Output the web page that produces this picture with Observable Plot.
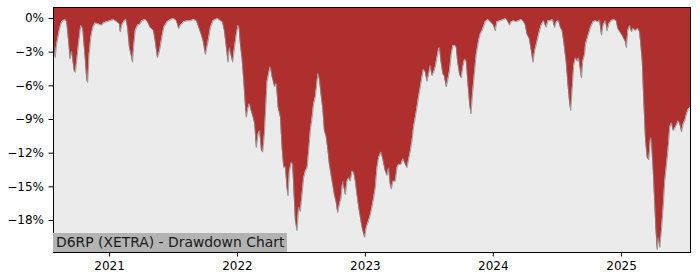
<!DOCTYPE html>
<html>
<head>
<meta charset="utf-8">
<script src="https://cdn.jsdelivr.net/npm/d3@7"></script>
<script src="https://cdn.jsdelivr.net/npm/@observablehq/plot@0.6"></script>
<style>
  html, body { margin: 0; padding: 0; background: #ffffff; }
  #wrap { position: relative; width: 700px; height: 280px; font-family: "DejaVu Sans", sans-serif; }
  #title {
    position: absolute; left: 53px; top: 233px; height: 19px; line-height: 19px;
    padding: 0 3px 0 3px; background: #b3b3b3; color: #1a1a1a;
    font-size: 13.9px; white-space: nowrap;
  }
</style>
</head>
<body>
<div id="wrap"><div id="title">D6RP (XETRA) - Drawdown Chart</div></div>
<script>
// Dates as decimal years, drawdown in percent
const dateYears = [
  2020.563, 2020.576, 2020.588, 2020.609, 2020.627, 2020.654, 2020.666, 2020.680, 2020.693, 2020.705,
  2020.724, 2020.734, 2020.745, 2020.758, 2020.776, 2020.791, 2020.810, 2020.823, 2020.830, 2020.841,
  2020.854, 2020.870, 2020.888, 2020.914, 2020.940, 2020.953, 2020.979, 2021.005, 2021.031, 2021.057,
  2021.078, 2021.084, 2021.096, 2021.115, 2021.130, 2021.141, 2021.156, 2021.170, 2021.180, 2021.188,
  2021.201, 2021.219, 2021.240, 2021.252, 2021.279, 2021.297, 2021.318, 2021.344, 2021.357, 2021.375,
  2021.391, 2021.409, 2021.424, 2021.451, 2021.477, 2021.502, 2021.523, 2021.541, 2021.555, 2021.580,
  2021.607, 2021.633, 2021.659, 2021.680, 2021.698, 2021.716, 2021.732, 2021.750, 2021.763, 2021.776,
  2021.789, 2021.810, 2021.828, 2021.846, 2021.867, 2021.883, 2021.898, 2021.914, 2021.927, 2021.938,
  2021.951, 2021.963, 2021.977, 2021.992, 2022.005, 2022.013, 2022.023, 2022.037, 2022.049, 2022.063,
  2022.070, 2022.084, 2022.094, 2022.107, 2022.123, 2022.135, 2022.148, 2022.162, 2022.174, 2022.188,
  2022.198, 2022.211, 2022.219, 2022.232, 2022.250, 2022.258, 2022.271, 2022.291, 2022.305, 2022.318,
  2022.336, 2022.349, 2022.362, 2022.375, 2022.388, 2022.396, 2022.406, 2022.422, 2022.432, 2022.443,
  2022.453, 2022.466, 2022.479, 2022.492, 2022.505, 2022.518, 2022.531, 2022.545, 2022.557, 2022.570,
  2022.584, 2022.596, 2022.609, 2022.623, 2022.630, 2022.641, 2022.654, 2022.666, 2022.680, 2022.693,
  2022.705, 2022.719, 2022.732, 2022.745, 2022.758, 2022.771, 2022.784, 2022.797, 2022.810, 2022.823,
  2022.834, 2022.844, 2022.857, 2022.870, 2022.883, 2022.896, 2022.909, 2022.922, 2022.935, 2022.948,
  2022.961, 2022.974, 2022.987, 2022.995, 2023.008, 2023.026, 2023.039, 2023.052, 2023.065, 2023.078,
  2023.091, 2023.104, 2023.123, 2023.138, 2023.156, 2023.170, 2023.182, 2023.195, 2023.203, 2023.216,
  2023.234, 2023.248, 2023.260, 2023.279, 2023.295, 2023.313, 2023.326, 2023.338, 2023.352, 2023.365,
  2023.377, 2023.391, 2023.404, 2023.416, 2023.430, 2023.443, 2023.455, 2023.469, 2023.482, 2023.495,
  2023.508, 2023.521, 2023.534, 2023.547, 2023.560, 2023.573, 2023.580, 2023.591, 2023.607, 2023.617,
  2023.633, 2023.646, 2023.659, 2023.672, 2023.685, 2023.703, 2023.711, 2023.721, 2023.737, 2023.750,
  2023.763, 2023.776, 2023.789, 2023.802, 2023.815, 2023.826, 2023.838, 2023.852, 2023.867, 2023.885,
  2023.898, 2023.912, 2023.938, 2023.959, 2023.977, 2024.002, 2024.016, 2024.029, 2024.055, 2024.080,
  2024.099, 2024.115, 2024.127, 2024.141, 2024.159, 2024.177, 2024.198, 2024.219, 2024.237, 2024.250,
  2024.263, 2024.281, 2024.297, 2024.310, 2024.323, 2024.336, 2024.354, 2024.373, 2024.393, 2024.412,
  2024.427, 2024.445, 2024.463, 2024.479, 2024.492, 2024.510, 2024.523, 2024.537, 2024.549, 2024.568,
  2024.584, 2024.596, 2024.604, 2024.615, 2024.627, 2024.641, 2024.654, 2024.666, 2024.680, 2024.688,
  2024.698, 2024.713, 2024.719, 2024.737, 2024.758, 2024.779, 2024.797, 2024.815, 2024.830, 2024.844,
  2024.857, 2024.875, 2024.888, 2024.901, 2024.920, 2024.940, 2024.959, 2024.971, 2024.987, 2025.005,
  2025.018, 2025.031, 2025.039, 2025.049, 2025.065, 2025.078, 2025.091, 2025.109, 2025.127, 2025.141,
  2025.148, 2025.162, 2025.174, 2025.188, 2025.201, 2025.213, 2025.227, 2025.234, 2025.248, 2025.258,
  2025.268, 2025.279, 2025.289, 2025.299, 2025.310, 2025.326, 2025.338, 2025.352, 2025.365, 2025.377,
  2025.391, 2025.404, 2025.416, 2025.430, 2025.443, 2025.456, 2025.469, 2025.482, 2025.495, 2025.508,
  2025.521, 2025.539
];
const drawdownPct = [
  -2.0, -3.5, -2.3, -1.0, -0.3, -0.1, -0.3, -1.9, -3.6, -2.9,
  -4.6, -4.8, -3.7, -2.3, -0.6, -0.9, -3.5, -5.5, -5.7, -3.2,
  -1.7, -0.8, -0.4, -0.5, -0.6, -0.4, -0.3, -0.2, -0.1, -0.3,
  -0.5, -1.2, -0.6, -0.2, -0.1, -0.8, -2.6, -3.3, -3.9, -2.6,
  -1.1, -0.6, -0.5, -0.2, -0.1, -0.3, -0.8, -1.1, -2.0, -3.5,
  -2.9, -1.7, -0.8, -0.3, -0.1, 0.0, -0.2, -0.9, -0.6, -0.3,
  -0.2, -0.2, -0.1, -0.2, -0.8, -1.4, -2.0, -3.2, -2.5, -1.7,
  -0.8, -0.2, -0.1, 0.0, -0.2, -0.3, -1.1, -2.6, -3.9, -2.6,
  -3.3, -3.9, -2.6, -1.4, -0.6, -0.8, -2.3, -3.7, -5.5, -7.9,
  -8.8, -7.9, -7.6, -8.2, -8.8, -9.4, -11.5, -10.3, -10.0, -11.8,
  -11.9, -10.3, -8.5, -5.6, -4.6, -4.3, -5.2, -6.1, -5.8, -7.9,
  -8.8, -11.5, -13.3, -13.2, -15.1, -15.8, -13.6, -12.8, -13.0, -15.7,
  -18.0, -18.9, -16.8, -17.2, -15.7, -14.2, -13.6, -13.3, -11.8, -10.0,
  -8.8, -7.6, -7.0, -5.6, -4.9, -5.4, -6.8, -7.9, -10.0, -10.5,
  -11.5, -13.0, -13.9, -14.8, -15.7, -16.3, -17.3, -16.6, -16.0, -14.5,
  -15.1, -15.7, -14.5, -14.2, -14.5, -13.6, -13.7, -14.5, -15.7, -16.8,
  -17.7, -18.6, -19.2, -19.5, -18.6, -18.0, -17.5, -16.8, -16.0, -15.1,
  -13.3, -12.4, -11.9, -12.6, -13.6, -14.0, -13.3, -14.8, -15.2, -14.5,
  -14.5, -13.3, -13.0, -13.0, -12.5, -13.0, -13.3, -12.6, -11.8, -10.9,
  -9.7, -8.8, -7.9, -7.0, -6.1, -5.2, -4.5, -4.8, -5.6, -5.0,
  -4.2, -5.1, -4.8, -4.3, -3.5, -2.7, -2.6, -3.8, -5.0, -5.1,
  -6.1, -5.4, -4.6, -3.2, -2.4, -2.4, -2.6, -3.8, -5.0, -5.3,
  -4.3, -3.6, -3.8, -5.8, -7.6, -8.5, -6.7, -5.0, -3.2, -2.0,
  -1.4, -1.1, -0.3, -0.1, -0.3, -0.6, -1.1, -0.3, -0.2, -0.1,
  0.0, -0.3, -0.6, -0.3, -0.2, -0.3, -0.2, -0.1, -0.3, -0.6,
  -1.4, -1.8, -2.9, -3.9, -2.9, -2.3, -1.4, -0.6, -0.2, -0.8,
  -0.2, -0.2, -0.1, -0.8, -0.3, -0.2, -0.8, -1.1, -2.0, -3.8,
  -6.1, -7.6, -8.2, -6.4, -4.2, -3.5, -3.8, -3.5, -4.6, -5.3,
  -3.8, -3.2, -2.3, -1.6, -0.8, -0.3, -0.2, -0.3, -0.2, -1.5,
  -0.6, -0.2, -1.1, -0.5, -0.2, -0.1, -0.2, -0.9, -1.2, -1.5,
  -1.8, -2.1, -2.6, -1.1, -0.6, -1.2, -0.9, -1.1, -0.9, -1.2,
  -2.0, -3.8, -7.3, -10.9, -12.4, -12.6, -10.6, -10.9, -13.6, -16.0,
  -18.6, -20.6, -19.5, -20.4, -19.2, -16.8, -14.5, -13.0, -11.5, -9.7,
  -9.3, -10.0, -9.8, -9.5, -9.1, -9.4, -10.1, -9.4, -9.1, -8.5,
  -8.1, -7.9
];
const yDomain = [-20.85, 0.98];
const yTicks = [0, -3, -6, -9, -12, -15, -18];
const xTickYears = [2021, 2022, 2023, 2024, 2025];
const titleText = "D6RP (XETRA) - Drawdown Chart";

function yearToDate(t) {
  const y = Math.floor(t);
  const s = Date.UTC(y, 0, 1), e = Date.UTC(y + 1, 0, 1);
  return new Date(s + (t - y) * (e - s));
}

const data = dateYears.map((t, i) => ({date: yearToDate(t), dd: drawdownPct[i]}));

const chart = Plot.plot({
  width: 700,
  height: 280,
  marginLeft: 53,
  marginRight: 10,
  marginTop: 7,
  marginBottom: 28,
  style: {fontFamily: "DejaVu Sans", fontSize: "12px", color: "#000", background: "transparent"},
  x: {type: "utc", domain: [yearToDate(dateYears[0]), yearToDate(dateYears[dateYears.length - 1])]},
  y: {domain: yDomain},
  marks: [
    Plot.frame({fill: "#ebebeb", stroke: null}),
    Plot.areaY(data, {x: "date", y1: yDomain[1], y2: "dd", fill: "#af2f2f", curve: "linear"}),
    Plot.line(data, {x: "date", y: "dd", stroke: "#8a8a8a", strokeWidth: 0.9, strokeOpacity: 0.85}),
    Plot.frame({stroke: "#000", strokeWidth: 1}),
    Plot.axisX({
      ticks: xTickYears.map(y => new Date(Date.UTC(y, 0, 1))),
      tickFormat: d => String(d.getUTCFullYear()),
      tickSize: 4.5, tickPadding: 4, label: null, fontSize: 12
    }),
    Plot.axisY({
      ticks: yTicks,
      tickFormat: d => (d === 0 ? "0%" : "\u2212" + Math.abs(d) + "%"),
      tickSize: 4.5, tickPadding: 5, label: null, fontSize: 12
    })
  ]
});
const wrap = document.getElementById("wrap");
wrap.insertBefore(chart, wrap.firstChild);
document.getElementById("title").textContent = titleText;
</script>
</body>
</html>
